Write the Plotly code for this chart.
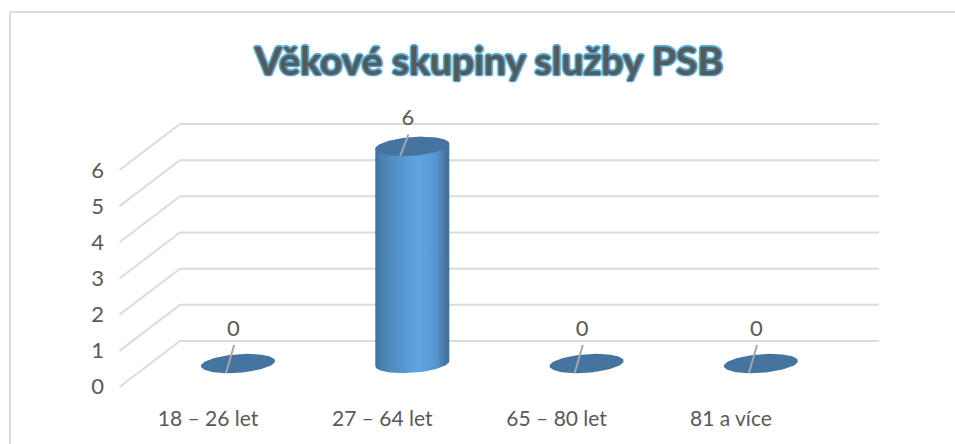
import numpy as np
import plotly.graph_objects as go

categories = ["18 – 26 let", "27 – 64 let", "65 – 80 let", "81 a více"]
values = [0, 6, 0, 0]
y_ticks = [0, 1, 2, 3, 4, 5, 6]
title_text = "Věkové skupiny služby PSB"

W, H = 955, 444
PX_X = 174.3          # pixels per category
PX_Y = 36.17          # pixels per value unit
X0_BAR = 238          # pixel of first category, bar plane
Y0_BACK = 341         # pixel of value 0, back wall
BAR_SHIFT = 22.5 / PX_Y    # bar plane vs back wall (value units)
LEFT_BACK = (180 - X0_BAR) / PX_X
LEFT_FRONT = (119.5 - X0_BAR) / PX_X
RIGHT_BACK = (879 - X0_BAR) / PX_X
DEPTH = 46 / PX_Y
A = 37 / PX_X
B = 9.3 / PX_Y
S = 2.6 / PX_Y

GRID = "#dcdcdc"
CAP = "#44749f"
TEXT = "#595959"
FONT = "Lato"


def ellipse(cx, cy, t):
    return cx + A * np.cos(t), cy + B * np.sin(t) + S * np.cos(t)


fig = go.Figure()

# wall gridlines
for v in y_ticks:
    fig.add_trace(go.Scatter(
        x=[LEFT_FRONT, LEFT_BACK, RIGHT_BACK], y=[v - DEPTH, v, v], mode="lines",
        line=dict(color=GRID, width=2), hoverinfo="skip", showlegend=False))

for i, v in enumerate(values):
    cy_top = v - BAR_SHIFT
    cy_base = -BAR_SHIFT
    if v > 0:
        bx, by = ellipse(i, cy_base, np.linspace(np.pi, 2 * np.pi, 60))
        tx, ty = ellipse(i, cy_top, np.linspace(0, np.pi, 60))
        fig.add_trace(go.Scatter(
            x=np.r_[bx, tx, bx[0]], y=np.r_[by, ty, by[0]], mode="lines",
            fill="toself", line=dict(width=0),
            fillgradient=dict(type="horizontal", colorscale=[
                [0, "#3f6f9a"], [0.08, "#4a80b0"], [0.3, "#5492ca"],
                [0.58, "#5fa5e2"], [0.82, "#5696d0"], [0.95, "#44749f"], [1, "#3f6f9a"]]),
            hoverinfo="skip", showlegend=False))
    ex, ey = ellipse(i, cy_top, np.linspace(0, 2 * np.pi, 100))
    fig.add_trace(go.Scatter(
        x=ex, y=ey, mode="lines", fill="toself", fillcolor=CAP,
        line=dict(width=0, color=CAP), hoverinfo="skip", showlegend=False))
    # data-label leader line
    tip = 12 if v > 0 else 18.5
    fig.add_trace(go.Scatter(
        x=[i - 12 / PX_X, i - 3.8 / PX_X],
        y=[cy_top - 9.5 / PX_Y, cy_top + tip / PX_Y], mode="lines",
        line=dict(color="#a6a6a6", width=2), hoverinfo="skip", showlegend=False))
    # data label
    lift = 27 if v > 0 else 33.5
    fig.add_trace(go.Scatter(
        x=[i - 4.5 / PX_X], y=[cy_top + lift / PX_Y], mode="text", text=[str(v)],
        textposition="middle center", textfont=dict(family=FONT, size=22, color=TEXT),
        hoverinfo="skip", showlegend=False))

# carrier of the front-plane axes
fig.add_trace(go.Scatter(
    x=list(range(len(categories))), y=values, xaxis="x2", yaxis="y2", mode="markers",
    marker=dict(opacity=0), hoverinfo="skip", showlegend=False))

halo = "#4aa6d0"
fig.update_layout(
    width=W, height=H, margin=dict(l=0, r=0, t=0, b=0),
    paper_bgcolor="white", plot_bgcolor="white", showlegend=False,
    title=dict(text=f"<b>{title_text}</b>", x=489 / W, xanchor="center", xref="paper",
               y=1 - 61 / H, yref="paper", yanchor="middle",
               font=dict(family=FONT, size=39, color=TEXT,
                         shadow=f"1.5px 0 1px {halo}, -1.5px 0 1px {halo}, 0 1.5px 1px {halo}, 0 -1.5px 1px {halo}, 1px 1px 1px {halo}, -1px -1px 1px {halo}, 1px -1px 1px {halo}, -1px 1px 1px {halo}")),
    xaxis=dict(range=[(0 - X0_BAR) / PX_X, (W - X0_BAR) / PX_X], visible=False, domain=[0, 1], fixedrange=True),
    yaxis=dict(range=[(Y0_BACK - H) / PX_Y, Y0_BACK / PX_Y], visible=False, domain=[0, 1], fixedrange=True),
    xaxis2=dict(range=[(0 - X0_BAR + 30) / PX_X, (W - X0_BAR + 30) / PX_X], overlaying="x", anchor="free",
                position=1 - 404 / H, side="bottom", tickmode="array",
                tickvals=list(range(len(categories))), ticktext=categories, showgrid=False,
                zeroline=False, showline=False, ticks="",
                tickfont=dict(family=FONT, size=21, color=TEXT), fixedrange=True),
    yaxis2=dict(range=[(386 - H) / 36, 386 / 36], overlaying="y", anchor="free",
                position=104 / W, side="left", tickmode="array", tickvals=y_ticks,
                showgrid=False, zeroline=False, showline=False, ticks="",
                tickfont=dict(family=FONT, size=22, color=TEXT), fixedrange=True),
    shapes=[
        dict(type="line", xref="paper", yref="paper", x0=10 / W, x1=1, y0=1 - 12 / H, y1=1 - 12 / H,
             line=dict(color=GRID, width=2)),
        dict(type="line", xref="paper", yref="paper", x0=10 / W, x1=10 / W, y0=0, y1=1 - 12 / H,
             line=dict(color=GRID, width=2)),
    ],
)

fig.write_html("out.html", config=dict(displayModeBar=False),
               post_script="document.body.style.margin='0';document.documentElement.style.overflow='hidden';")
